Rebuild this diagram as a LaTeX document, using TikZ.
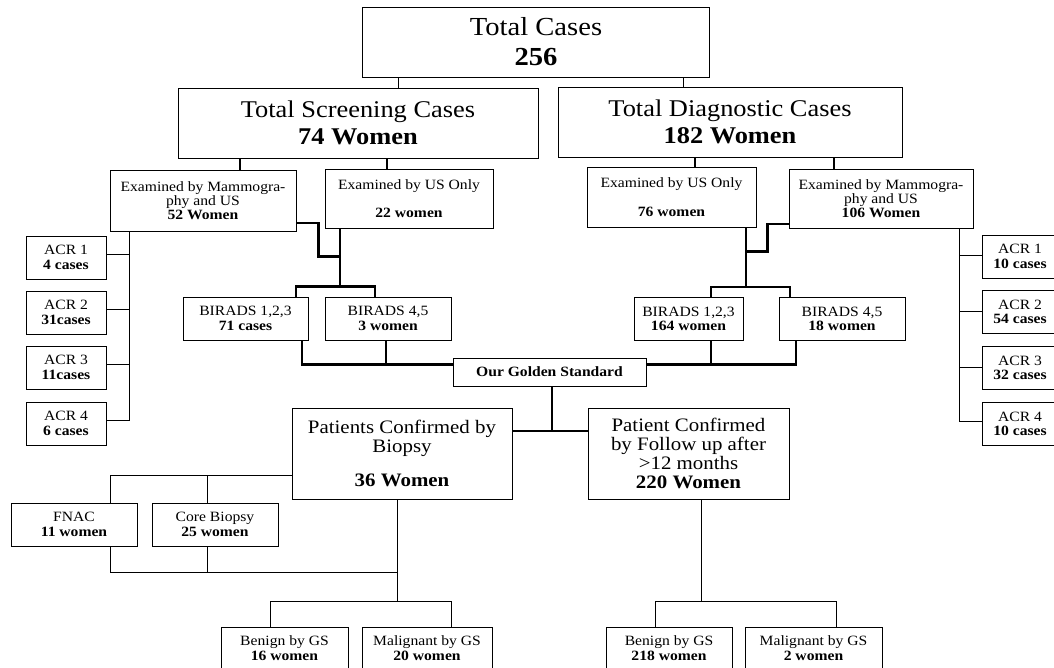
\documentclass[tikz,border=0pt]{standalone}
\usepackage{fontspec}
\setmainfont{Liberation Serif}[FakeStretch=1.1]

\begin{document}
\begin{tikzpicture}[
    x=1pt, y=-1pt,
    every node/.style={draw, align=center, line width=1pt, inner sep=0pt},
    title_text/.style={font=\fontsize{26}{30}\selectfont},
    head_text/.style={font=\fontsize{24}{27}\selectfont},
    mid_text/.style={font=\fontsize{19}{19}\selectfont},
    small_text/.style={font=\fontsize{14.2}{14.3}\selectfont},
    thin_line/.style={line width=1pt},
    mid_line/.style={line width=1.5pt},
    thick_line/.style={line width=2.2pt}
]
\useasboundingbox (0,0) rectangle (1054,667);
\clip (0,0) rectangle (1054,667);
\node (total_cases) [title_text, minimum width=347pt, minimum height=70pt] at (536,42) {Total Cases\\\textbf{256}};
\node (screening_cases) [head_text, minimum width=360pt, minimum height=70pt] at (358,123) {Total Screening Cases\\\textbf{74 Women}};
\node (diagnostic_cases) [head_text, minimum width=344pt, minimum height=70pt] at (730,122) {Total Diagnostic Cases\\\textbf{182 Women}};
\node (mammo_screen) [small_text, minimum width=186pt, minimum height=61pt] at (203,200.5) {Examined by Mammogra-\\phy and US\\\textbf{52 Women}};
\node (us_screen) [small_text, minimum width=168pt, minimum height=59pt] at (409,198.5) {Examined by US Only\\[14pt]\textbf{22 women}};
\node (us_diag) [small_text, minimum width=169pt, minimum height=60pt] at (671.5,197) {Examined by US Only\\[14pt]\textbf{76 women}};
\node (mammo_diag) [small_text, minimum width=184pt, minimum height=59pt] at (881,198.5) {Examined by Mammogra-\\phy and US\\\textbf{106 Women}};
\node (acr_s1) [small_text, minimum width=80pt, minimum height=43pt] at (66,257.5) {ACR 1\\\textbf{4 cases}};
\node (acr_s2) [small_text, minimum width=80pt, minimum height=43pt] at (66,312.5) {ACR 2\\\textbf{31cases}};
\node (acr_s3) [small_text, minimum width=80pt, minimum height=43pt] at (66,367.5) {ACR 3\\\textbf{11cases}};
\node (acr_s4) [small_text, minimum width=80pt, minimum height=43pt] at (66,423.5) {ACR 4\\\textbf{6 cases}};
\node (acr_d1) [small_text, minimum width=76pt, minimum height=43pt] at (1020,256.5) {ACR 1\\\textbf{10 cases}};
\node (acr_d2) [small_text, minimum width=76pt, minimum height=43pt] at (1020,312) {ACR 2\\\textbf{54 cases}};
\node (acr_d3) [small_text, minimum width=76pt, minimum height=43pt] at (1020,368) {ACR 3\\\textbf{32 cases}};
\node (acr_d4) [small_text, minimum width=76pt, minimum height=43pt] at (1020,424) {ACR 4\\\textbf{10 cases}};
\node (birads123_s) [small_text, minimum width=125pt, minimum height=43pt] at (245.5,318.5) {BIRADS 1,2,3\\\textbf{71 cases}};
\node (birads45_s) [small_text, minimum width=126pt, minimum height=43pt] at (388,318.5) {BIRADS 4,5\\\textbf{3 women}};
\node (birads123_d) [small_text, minimum width=109pt, minimum height=43pt] at (688.5,319) {BIRADS 1,2,3\\\textbf{164 women}};
\node (birads45_d) [small_text, minimum width=126pt, minimum height=43pt] at (842,319) {BIRADS 4,5\\\textbf{18 women}};
\node (golden) [small_text, minimum width=193pt, minimum height=28pt] at (549.5,372) {\textbf{Our Golden Standard}};
\node (biopsy_conf) [mid_text, minimum width=220pt, minimum height=91pt] at (402,453.5) {Patients Confirmed by\\Biopsy\\[15pt]\textbf{36 Women}};
\node (followup_conf) [mid_text, minimum width=201pt, minimum height=91pt] at (688.5,453.5) {Patient Confirmed\\by Follow up after\\\textgreater12 months\\\textbf{220 Women}};
\node (fnac) [small_text, minimum width=126pt, minimum height=43pt] at (74,524.5) {FNAC\\\textbf{11 women}};
\node (core_biopsy) [small_text, minimum width=126pt, minimum height=43pt] at (215,524.5) {Core Biopsy\\\textbf{25 women}};
\node (benign_b) [small_text, minimum width=127pt, minimum height=42pt] at (284.5,648) {Benign by GS\\\textbf{16 women}};
\node (malignant_b) [small_text, minimum width=130pt, minimum height=42pt] at (427,648) {Malignant by GS\\\textbf{20 women}};
\node (benign_f) [small_text, minimum width=126pt, minimum height=42pt] at (669,648) {Benign by GS\\\textbf{218 women}};
\node (malignant_f) [small_text, minimum width=137pt, minimum height=42pt] at (813.5,648) {Malignant by GS\\\textbf{2 women}};
\draw[thin_line] ([xshift=40pt]screening_cases.north) -- ([xshift=40pt]screening_cases.north |- total_cases.south);
\draw[thin_line] ([xshift=-47pt]diagnostic_cases.north) -- ([xshift=-47pt]diagnostic_cases.north |- total_cases.south);
\draw[mid_line] ([xshift=37pt]mammo_screen.north) -- ([xshift=37pt]mammo_screen.north |- screening_cases.south);
\draw[mid_line] ([xshift=-22pt]us_screen.north) -- ([xshift=-22pt]us_screen.north |- screening_cases.south);
\draw[mid_line] ([xshift=23.5pt]us_diag.north) -- ([xshift=23.5pt]us_diag.north |- diagnostic_cases.south);
\draw[mid_line] ([xshift=-47pt]mammo_diag.north) -- ([xshift=-47pt]mammo_diag.north |- diagnostic_cases.south);
\coordinate (acr_trunk_l) at ([xshift=-74pt]mammo_screen.south);
\draw[thin_line] (acr_trunk_l) |- ([yshift=3pt]acr_s4.east);
\foreach \i in {1,2,3} \draw[thin_line] ([yshift=3pt]acr_s\i.east) -- ([yshift=3pt]acr_s\i.east -| acr_trunk_l);
\coordinate (acr_trunk_r) at ([xshift=78pt]mammo_diag.south);
\draw[thin_line] (acr_trunk_r) |- ([yshift=3pt]acr_d4.west);
\foreach \i in {1,2,3} \draw[thin_line] ([yshift=1pt]acr_d\i.west) -- ([yshift=1pt]acr_d\i.west -| acr_trunk_r);
\coordinate (us_drop_l) at ([xshift=-69pt]us_screen.south);
\coordinate (split_l) at ([yshift=10pt]us_drop_l |- birads123_s.north);
\draw[thick_line] (us_drop_l) -- (split_l);
\draw[thick_line] ([yshift=-22.5pt]mammo_screen.east) -- ++(22,0) |- ([yshift=-28pt]us_drop_l);
\draw[thick_line] ([xshift=50.5pt]birads123_s.north) |- (split_l) -| ([xshift=-13pt]birads45_s.north);
\coordinate (us_drop_r) at ([xshift=74.5pt]us_diag.south);
\coordinate (split_r) at ([yshift=10pt]us_drop_r |- birads123_d.north);
\draw[thick_line] (us_drop_r) -- (split_r);
\draw[thick_line] ([yshift=-25.5pt]mammo_diag.west) -- ++(-21,0) |- ([yshift=-24pt]us_drop_r);
\draw[thick_line] ([xshift=22.5pt]birads123_d.north) |- (split_r) -| ([xshift=-52pt]birads45_d.north);
\coordinate (golden_in_l) at ([yshift=7.5pt]golden.west);
\coordinate (golden_in_r) at ([yshift=7.5pt]golden.east);
\draw[thick_line] ([xshift=56.5pt]birads123_s.south) |- (golden_in_l);
\draw[thick_line] ([xshift=-2pt]birads45_s.south) -- ([xshift=-2pt]birads45_s.south |- golden_in_l);
\draw[thick_line] ([xshift=-46pt]birads45_d.south) |- (golden_in_r);
\draw[thick_line] ([xshift=22.5pt]birads123_d.south) -- ([xshift=22.5pt]birads123_d.south |- golden_in_r);
\coordinate (merge_l) at ([yshift=22.5pt]biopsy_conf.east);
\draw[thick_line] (merge_l) -- (merge_l -| followup_conf.west);
\draw[thick_line] ([xshift=2.5pt]golden.south) -- ([xshift=2.5pt]golden.south |- merge_l);
\draw[thin_line] ([yshift=-21.5pt]biopsy_conf.west) -| ([xshift=36pt]fnac.north);
\draw[thin_line] ([xshift=-8pt]core_biopsy.north) -- ([xshift=-8pt,yshift=-21.5pt]core_biopsy.north |- biopsy_conf.west);
\coordinate (biopsy_trunk) at ([xshift=-5pt]biopsy_conf.south);
\draw[thin_line] (biopsy_trunk) -- ([yshift=25pt]biopsy_trunk |- benign_b.north);
\draw[thin_line] ([xshift=36pt]fnac.south) |- ([yshift=-26pt]biopsy_trunk |- fnac.south);
\draw[thin_line] ([xshift=-8pt]core_biopsy.south) -- ([xshift=-8pt,yshift=-26pt]core_biopsy.south);
\draw[thin_line] ([xshift=-14.5pt]benign_b.north) -- ++(0,-25) -| ([xshift=24pt]malignant_b.north);
\draw[thin_line] ([xshift=12.5pt]followup_conf.south) -- ([xshift=12.5pt,yshift=25pt]followup_conf.south |- benign_f.north);
\draw[thin_line] ([xshift=-14pt]benign_f.north) -- ++(0,-25) -| ([xshift=22.5pt]malignant_f.north);
\end{tikzpicture}
\end{document}
